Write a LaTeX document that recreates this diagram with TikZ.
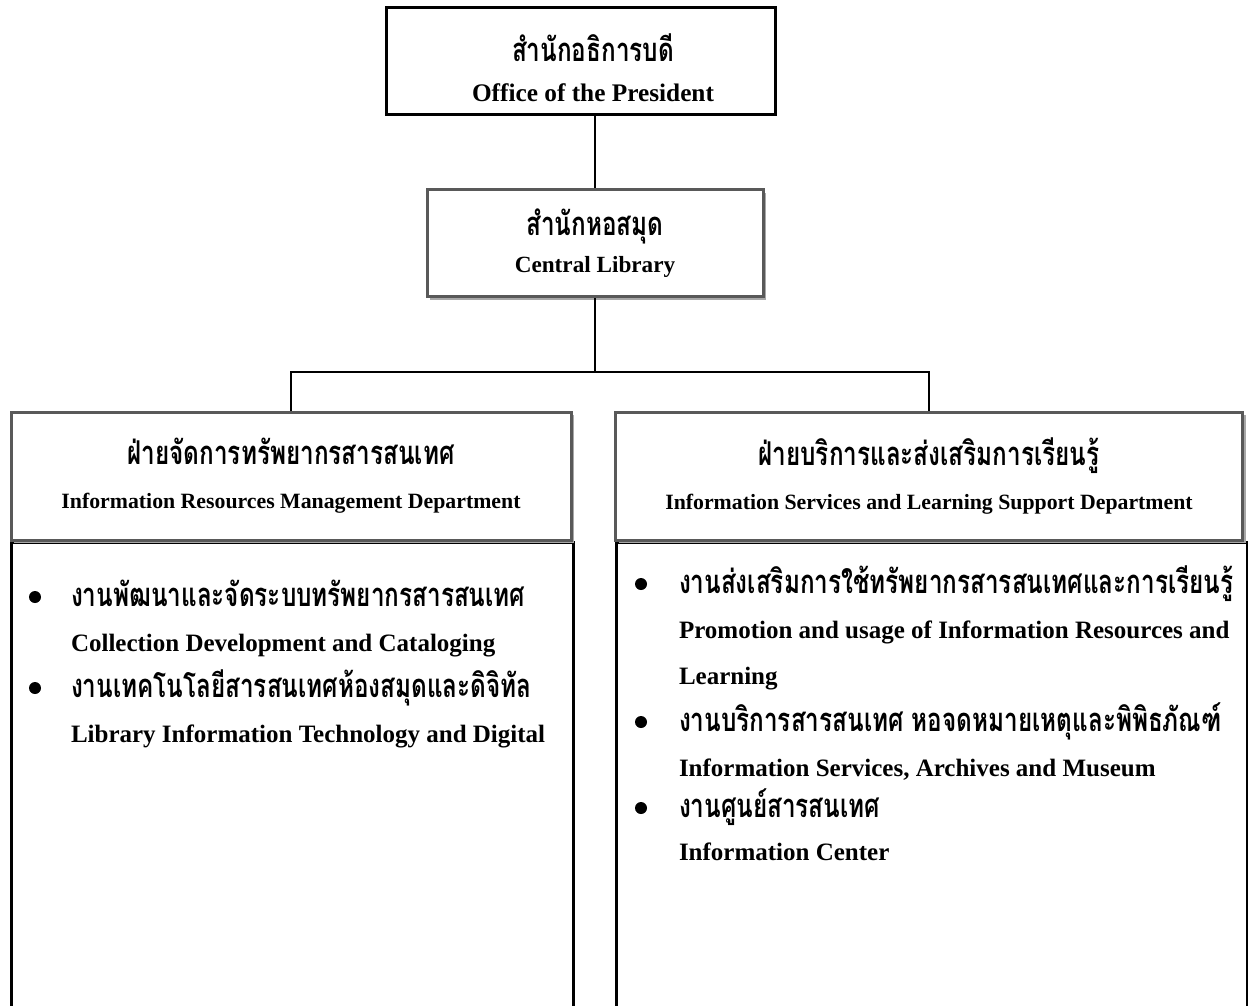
\documentclass[tikz,border=0pt]{standalone}
\usepackage{fontspec}
\usepackage{graphicx}
\setmainfont{Liberation Serif}
\newfontfamily\thaifont[Script=Thai]{Loma}
\usetikzlibrary{positioning,shadows}

\definecolor{boxgray}{HTML}{595959}
\definecolor{shadowgray}{HTML}{A8A8A8}
\newcommand{\thtxt}[1]{\scalebox{1}[1.35]{\fontsize{24.3}{28}\thaifont #1}}

\tikzset{
  unit/.style={draw, rectangle, fill=white, align=center, inner sep=0pt},
  presbox/.style={unit, line width=3pt, minimum width=389pt, minimum height=107pt,
    font=\bfseries\fontsize{25.3}{40}\selectfont},
  grayunit/.style={unit, draw=boxgray, line width=3pt,
    drop shadow={shadow xshift=3pt, shadow yshift=-3pt, fill=shadowgray, opacity=1}},
  libbox/.style={grayunit, minimum width=336pt, minimum height=107pt,
    font=\bfseries\fontsize{23.2}{37}\selectfont},
  deptbox/.style={grayunit, minimum height=128pt,
    font=\bfseries\fontsize{21.8}{44}\selectfont},
  bodybox/.style={draw, rectangle, line width=3pt, minimum height=480pt},
  item/.style={anchor=base west, inner sep=0pt, font=\bfseries\fontsize{25}{28}\selectfont},
  dot/.style={circle, fill, inner sep=0pt, minimum size=12pt}
}

\begin{document}
\begin{tikzpicture}[x=1pt, y=-1pt, line width=2pt]
  \clip (0,0) rectangle (1248,1005);

  \node[presbox] (pres) at (581,61)
    {\rule{0pt}{42pt}\hspace*{24pt}\thtxt{สำนักอธิการบดี}\\\hspace*{24pt}Office of the President};
  \node[libbox] (lib) at (595,243) {\thtxt{สำนักหอสมุด}\\Central Library};

  \node[bodybox, anchor=north west, minimum width=562pt] (irmbody) at (10,541) {};
  \node[bodybox, anchor=north west, minimum width=631pt] (islbody) at (615,541) {};
  \node[deptbox, minimum width=560pt] (irm) at (291,476)
    {\thtxt{ฝ่ายจัดการทรัพยากรสารสนเทศ}\\Information Resources Management Department};
  \node[deptbox, minimum width=627pt] (isl) at (929,476)
    {\thtxt{ฝ่ายบริการและส่งเสริมการเรียนรู้}\\Information Services and Learning Support Department};

  % connectors
  \coordinate (split) at (595,372);
  \draw (pres.south -| lib.north) -- (lib.north);
  \draw (lib.south) -- (split) -| (irm.north);
  \draw (split) -| (isl.north);

  % left department
  \node[dot] (irmdot1) at (35,597) {};
  \node[item] (irmth1) at (70,606) {\thtxt{งานพัฒนาและจัดระบบทรัพยากรสารสนเทศ}};
  \node[item] (irmen1) at (70,651) {Collection Development and Cataloging};
  \node[dot] (irmdot2) at (35,688) {};
  \node[item] (irmth2) at (70,697) {\thtxt{งานเทคโนโลยีสารสนเทศห้องสมุดและดิจิทัล}};
  \node[item] (irmen2) at (70,742) {Library Information Technology and Digital};

  % right department
  \node[dot] (isldot1) at (641,584) {};
  \node[item] (islth1) at (678,593) {\thtxt{งานส่งเสริมการใช้ทรัพยากรสารสนเทศและการเรียนรู้}};
  \node[item] (islen1) at (678,638) {Promotion and usage of Information Resources and};
  \node[item] (islen2) at (678,684) {Learning};
  \node[dot] (isldot2) at (641,722) {};
  \node[item] (islth2) at (678,731) {\thtxt{งานบริการสารสนเทศ หอจดหมายเหตุและพิพิธภัณฑ์}};
  \node[item] (islen3) at (678,776) {Information Services, Archives and Museum};
  \node[dot] (isldot3) at (641,808) {};
  \node[item] (islth3) at (678,817) {\thtxt{งานศูนย์สารสนเทศ}};
  \node[item] (islen4) at (678,860) {Information Center};
\end{tikzpicture}
\end{document}
